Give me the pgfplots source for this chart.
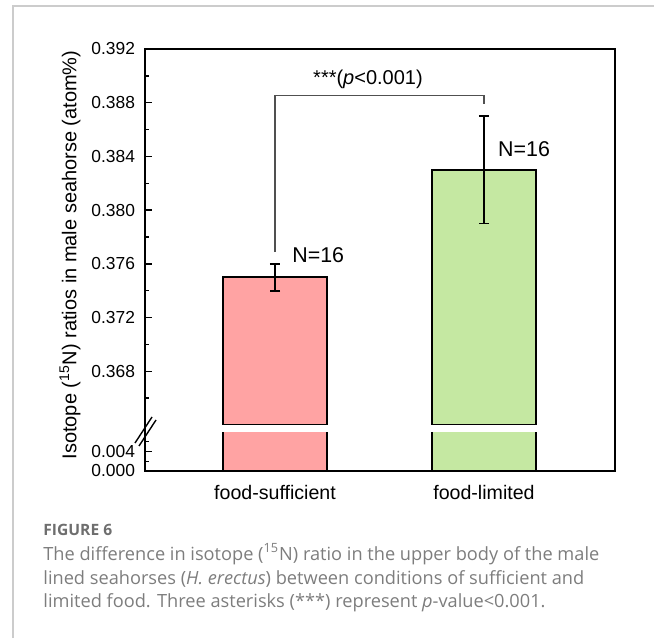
\documentclass[border=0pt]{standalone}
\usepackage{fontspec}
\setmainfont{Liberation Sans}
\newfontfamily\capfont{Open Sans}
\usepackage{pgfplots}
\pgfplotsset{compat=1.18}

\definecolor{barred}{RGB}{255,163,163}
\definecolor{bargreen}{RGB}{197,232,162}
\definecolor{framegray}{RGB}{204,204,204}
\definecolor{capgray}{RGB}{125,125,125}
\definecolor{capdark}{RGB}{110,110,110}
\definecolor{bracketgray}{RGB}{80,80,80}

\pgfplotsset{
  brokenpart/.style={
    scale only axis, width=235pt, anchor=south west,
    xmin=-0.622, xmax=1.627,
    axis line style={draw=none},
    scaled y ticks=false,
    ybar, bar width=0.5,
    tick align=inside, ytick pos=left, xtick pos=bottom,
    major tick length=3.5pt, minor tick length=2pt,
    tick style={black, line width=0.7pt},
    yticklabel style={font=\fontsize{8.7}{10}\selectfont, xshift=-1.5pt},
    xticklabel style={font=\fontsize{9.8}{11}\selectfont, yshift=-3.5pt},
  },
  sufficient/.style={fill=barred, draw=black, line width=0.8pt, bar shift=0pt},
  limited/.style={fill=bargreen, draw=black, line width=0.8pt, bar shift=0pt},
  witherr/.style={error bars/.cd, y dir=both, y explicit,
    error mark=|,
    error bar style={black, line width=0.8pt},
    error mark options={black, line width=0.8pt, mark size=2.6pt}},
}

\begin{document}
\begin{tikzpicture}
\useasboundingbox (0,0) rectangle (327pt,319pt);

% page frame
\draw[framegray, line width=0.6pt] (6.5pt,0) -- (6.5pt,316pt) -- (327pt,316pt);

% upper part of the broken axis
\begin{axis}[brokenpart, name=upper, at={(72.5pt,106.5pt)}, height=188pt,
  ymin=0.364, ymax=0.392,
  xtick=\empty,
  ytick={0.368,0.372,0.376,0.380,0.384,0.388,0.392},
  yticklabels={0.368,0.372,0.376,0.380,0.384,0.388,0.392},
  minor ytick={0.366,0.370,0.374,0.378,0.382,0.386,0.390},
]
\addplot[sufficient, witherr] coordinates {(0,0.375) +- (0,0.001)};
\addplot[limited, witherr] coordinates {(1,0.383) +- (0,0.004)};
% significance bracket
\addplot[sharp plot, bracketgray, line width=0.6pt, mark=none]
  coordinates {(0,0.37687) (0,0.38852) (1,0.38852) (1,0.3879)};
\node[font=\fontsize{10}{12}\selectfont] at (axis cs:0.445,0.38972)
  {***(\textit{p}<0.001)};
\node[font=\fontsize{10.7}{12}\selectfont, anchor=west, inner sep=0pt]
  at (axis cs:0.081,0.37662) {N=16};
\node[font=\fontsize{10.7}{12}\selectfont, anchor=west, inner sep=0pt]
  at (axis cs:1.066,0.38452) {N=16};
\end{axis}

% lower part of the broken axis
\begin{axis}[brokenpart, name=lower, at={(72.5pt,83.5pt)}, height=19.5pt,
  ymin=0, ymax=0.008,
  xtick={0,1}, xticklabels={food-sufficient, food-limited},
  ytick={0,0.004}, yticklabels={0.000,0.004},
  minor ytick={0.002,0.006},
]
\addplot[sufficient] coordinates {(0,0.375)};
\addplot[limited] coordinates {(1,0.383)};
\end{axis}

% axis box, continuous through the break
\draw[line width=0.8pt] (lower.south west) -- (upper.north west)
  -- (upper.north east) -- (lower.south east) -- cycle;
% break marks on the left spine
\draw[line width=0.7pt] (67.5pt,97.5pt) -- (76pt,110.5pt);
\draw[line width=0.7pt] (69.5pt,96pt) -- (78pt,109pt);

% y-axis title
\node[rotate=90, font=\fontsize{10}{12}\selectfont] at (35pt,191.5pt)
  {Isotope (\textsuperscript{15}N) ratios in male seahorse (atom\%)};

% figure caption
\node[anchor=base west, inner sep=0pt, text=capdark, font=\capfont\bfseries\fontsize{7.8}{9}\selectfont]
  at (21.5pt,51.15pt) {FIGURE 6};
\node[anchor=base west, inner sep=0pt, text=capgray, font=\capfont\fontsize{9.1}{11}\selectfont]
  at (21.5pt,38.8pt) {The difference in isotope (\textsuperscript{15}N) ratio in the upper body of the male};
\node[anchor=base west, inner sep=0pt, text=capgray, font=\capfont\fontsize{9.1}{11}\selectfont]
  at (21.5pt,26.8pt) {lined seahorses (\textit{H. erectus}) between conditions of sufficient and};
\node[anchor=base west, inner sep=0pt, text=capgray, font=\capfont\fontsize{9.1}{11}\selectfont]
  at (21.5pt,15.2pt) {limited food. Three asterisks (***) represent \textit{p}-value<0.001.};
\end{tikzpicture}
\end{document}
